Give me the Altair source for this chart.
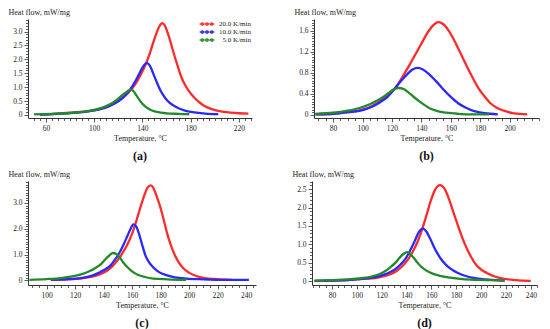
import altair as alt
import pandas as pd

FONT = "Liberation Serif"
SERIES = ["20.0 K/min", "10.0 K/min", "5.0 K/min"]
COLORS = ["#ff2b2b", "#2828ff", "#23892a"]
Y_TITLE = "Heat flow, mW/mg"
X_TITLE = "Temperature, °C"

# ---- panel (a) ----
a20_t = [55, 70, 85, 95, 105, 112, 118, 122, 126, 130, 134, 138, 142, 146, 149, 152, 154, 156.5, 158.5, 161,
         163.5, 166, 169, 172, 176, 180, 184, 188, 192, 197, 203, 210, 218, 228]
a20_q = [0.02, 0.05, 0.1, 0.14, 0.22, 0.32, 0.45, 0.55, 0.7, 0.88, 1.1, 1.4, 1.75, 2.2, 2.6, 2.98, 3.18, 3.3, 3.22, 2.95,
         2.6, 2.22, 1.8, 1.4, 1.03, 0.78, 0.58, 0.43, 0.31, 0.22, 0.15, 0.1, 0.07, 0.05]
a10_t = [55, 70, 85, 95, 105, 112, 118, 122, 126, 130, 134, 137, 140, 142, 144, 146, 148, 150, 152.5, 155,
         158, 161, 165, 170, 176, 183, 192, 203]
a10_q = [0.01, 0.04, 0.08, 0.13, 0.21, 0.31, 0.44, 0.56, 0.72, 0.93, 1.2, 1.45, 1.7, 1.82, 1.86, 1.78, 1.6, 1.38, 1.12, 0.88,
         0.67, 0.5, 0.36, 0.24, 0.15, 0.09, 0.05, 0.03]
a5_t = [50, 65, 80, 92, 102, 108, 114, 119, 123, 126, 128.5, 130.5, 132.5, 135, 137.5, 140, 143, 147, 152, 160, 170, 179]
a5_q = [0.02, 0.04, 0.07, 0.12, 0.2, 0.28, 0.4, 0.55, 0.7, 0.8, 0.88, 0.91, 0.86, 0.7, 0.54, 0.4, 0.28, 0.18, 0.11, 0.06, 0.04, 0.03]

# ---- panel (b) ----
b20_t = [68, 80, 90, 100, 106, 112, 118, 124, 128, 132, 136, 140, 144, 148, 151.5, 155, 159, 163, 167, 171,
         175, 179, 183, 187, 191, 196, 203, 212]
b20_q = [0.01, 0.02, 0.05, 0.1, 0.16, 0.26, 0.39, 0.58, 0.76, 0.95, 1.15, 1.35, 1.55, 1.7, 1.76, 1.72, 1.58, 1.38, 1.15, 0.92,
         0.7, 0.5, 0.35, 0.22, 0.14, 0.08, 0.03, 0.01]
b10_t = [68, 80, 90, 100, 106, 112, 117, 122, 126, 130, 134, 137.5, 141, 145, 150, 155, 160, 165, 170, 176, 183, 192]
b10_q = [0.01, 0.02, 0.05, 0.09, 0.15, 0.24, 0.34, 0.5, 0.64, 0.76, 0.86, 0.89, 0.86, 0.78, 0.64, 0.48, 0.34, 0.22, 0.14, 0.07, 0.03, 0.01]
b5_t = [68, 80, 90, 98, 105, 110, 114, 118, 121, 124.5, 128, 131, 134, 138, 142, 146, 151, 157, 165, 175, 186]
b5_q = [0.02, 0.04, 0.08, 0.13, 0.2, 0.27, 0.34, 0.42, 0.48, 0.51, 0.49, 0.43, 0.36, 0.27, 0.19, 0.12, 0.07, 0.04, 0.02, 0.01, 0.01]

# ---- panel (c) ----
c20_t = [103, 115, 125, 132, 137, 141, 145, 148, 151, 154, 157, 160, 163, 166, 169, 171, 173, 175, 177, 179.5,
         182, 184.5, 187, 190, 193, 196, 200, 205, 211, 220, 230]
c20_q = [0.02, 0.04, 0.08, 0.14, 0.22, 0.32, 0.48, 0.65, 0.86, 1.12, 1.42, 1.8, 2.3, 2.85, 3.35, 3.6, 3.68, 3.58, 3.3, 2.9,
         2.4, 1.85, 1.4, 0.98, 0.68, 0.47, 0.3, 0.17, 0.09, 0.05, 0.02]
c10_t = [103, 115, 125, 132, 137, 141, 145, 148, 151, 154, 157, 159, 161, 163, 165, 167, 169.5, 172, 175, 179,
         184, 190, 198, 210, 225, 242]
c10_q = [0.03, 0.05, 0.1, 0.18, 0.3, 0.42, 0.58, 0.8, 1.05, 1.38, 1.75, 2.0, 2.17, 2.08, 1.78, 1.4, 0.95, 0.7, 0.5, 0.32,
         0.2, 0.12, 0.07, 0.04, 0.02, 0.02]
c5_t = [88, 100, 110, 118, 125, 130, 134, 138, 141, 144, 146.5, 149, 151.5, 154, 157, 160, 164, 169, 175, 185, 198]
c5_q = [0.02, 0.05, 0.09, 0.15, 0.24, 0.35, 0.47, 0.62, 0.8, 0.96, 1.06, 1.02, 0.88, 0.68, 0.5, 0.35, 0.22, 0.13, 0.07, 0.04, 0.02]

# ---- panel (d) ----
d20_t = [66, 80, 95, 108, 118, 126, 132, 137, 141, 145, 149, 152.5, 156, 159.5, 163, 167, 170.5, 174, 177.5, 181,
         184.5, 188, 192, 196, 200, 205, 211, 218, 228, 240]
d20_q = [0.01, 0.02, 0.04, 0.07, 0.11, 0.18, 0.28, 0.42, 0.58, 0.8, 1.08, 1.4, 1.78, 2.18, 2.48, 2.61, 2.52, 2.25, 1.9, 1.55,
         1.22, 0.93, 0.66, 0.45, 0.32, 0.22, 0.13, 0.07, 0.03, 0.01]
d10_t = [66, 80, 95, 108, 116, 122, 127, 131, 135, 139, 143, 147, 150, 153, 156, 159, 162, 165, 168.5, 172,
         176, 181, 187, 194, 203, 212, 219]
d10_q = [0.01, 0.02, 0.04, 0.08, 0.12, 0.18, 0.25, 0.33, 0.45, 0.6, 0.84, 1.12, 1.34, 1.43, 1.35, 1.16, 0.94, 0.75, 0.57, 0.44,
         0.33, 0.23, 0.15, 0.09, 0.05, 0.03, 0.02]
d5_t = [66, 80, 95, 105, 112, 118, 123, 127, 131, 134.5, 137.5, 140.5, 143, 146, 149, 152, 156, 161, 167, 175, 185, 197, 208, 219]
d5_q = [0.01, 0.03, 0.06, 0.09, 0.13, 0.19, 0.28, 0.38, 0.5, 0.64, 0.74, 0.79, 0.74, 0.63, 0.5, 0.39, 0.29, 0.21, 0.15, 0.1,
        0.06, 0.04, 0.03, 0.02]

# tick labels per panel
a_xlabels = [60, 100, 140, 180, 220]
a_ylabels = [0, 0.5, 1.0, 1.5, 2.0, 2.5, 3.0]
b_xlabels = [80, 100, 120, 140, 160, 180, 200]
b_ylabels = [0, 0.4, 0.8, 1.2, 1.6]
c_xlabels = [100, 120, 140, 160, 180, 200, 220, 240]
c_ylabels = [0, 1.0, 2.0, 3.0]
d_xlabels = [80, 100, 120, 140, 160, 180, 200, 220, 240]
d_ylabels = [0, 0.5, 1.0, 1.5, 2.0, 2.5]

# legend glyph: a short line with three open circle markers
r = 0.42
LEGEND_GLYPH = "M-2.5,0H2.5" + "".join(
    f"M{cx - r:.2f},0a{r},{r} 0 1,0 {2 * r:.2f},0a{r},{r} 0 1,0 {-2 * r:.2f},0" for cx in (-1.6, 0, 1.6)
)


def frame(triples):
    rows = []
    for name, ts, qs in triples:
        for t, q in zip(ts, qs):
            rows.append({"T": t, "Q": q, "series": name})
    return pd.DataFrame(rows)


def minor(lo, hi, step):
    out = []
    k = int(lo // step) + 1
    while k * step <= hi + 1e-9:
        out.append(round(k * step, 3))
        k += 1
    return out


def panel(label, df, xdom, xlabels, xstep, ydom, ylabels, ystep, w, h, legend):
    xt = minor(xdom[0], xdom[1], xstep)
    yt = [v for v in minor(ydom[0] - ystep, ydom[1], ystep) if v >= 0]
    xs = "[" + ",".join(str(v) for v in xlabels) + "]"
    ys = "[" + ",".join(str(v) for v in ylabels) + "]"
    xaxis = alt.Axis(
        values=xt, title=X_TITLE, titleFont=FONT, titleFontSize=8, titleFontWeight="normal",
        titlePadding=3, labelFont=FONT, labelFontSize=7.5, labelPadding=2, labelOverlap=False,
        labelExpr=f"indexof({xs}, datum.value) >= 0 ? format(datum.value, 'd') : ''",
        tickSize={"condition": {"test": f"indexof({xs}, datum.value) >= 0", "value": 4}, "value": 2.5},
        grid=False, domainColor="#333", tickColor="#333", labelColor="#222", titleColor="#222",
        domainWidth=1, tickWidth=0.8,
    )
    yaxis = alt.Axis(
        values=yt, title=Y_TITLE, titleFont=FONT, titleFontSize=8, titleFontWeight="normal",
        titleAngle=0, titleAlign="left", titleBaseline="bottom", titleX=-20, titleY=-3,
        labelFont=FONT, labelFontSize=7.5, labelPadding=2, labelOverlap=False,
        labelExpr=f"indexof({ys}, datum.value) >= 0 ? (datum.value == 0 ? '0' : format(datum.value, '.1f')) : ''",
        tickSize={"condition": {"test": f"indexof({ys}, datum.value) >= 0", "value": 4}, "value": 2.5},
        grid=False, domainColor="#333", tickColor="#333", labelColor="#222", titleColor="#222",
        domainWidth=1, tickWidth=0.8,
    )
    if legend:
        leg = alt.Legend(title=None, orient="top-right", symbolType=LEGEND_GLYPH, symbolStrokeWidth=1.2,
                         symbolSize=36, labelFont=FONT, labelFontSize=7, labelColor="#222",
                         labelAlign="right", labelOffset=40, rowPadding=0, offset=1, padding=0)
    else:
        leg = None
    return alt.Chart(df).mark_line(strokeWidth=2.3, interpolate="monotone", clip=True).encode(
        x=alt.X("T:Q", scale=alt.Scale(domain=xdom, nice=False, zero=False), axis=xaxis),
        y=alt.Y("Q:Q", scale=alt.Scale(domain=ydom, nice=False, zero=False), axis=yaxis),
        color=alt.Color("series:N", scale=alt.Scale(domain=SERIES, range=COLORS), legend=leg, sort=SERIES),
        order=alt.Order("T:Q"),
    ).properties(
        width=w, height=h,
        title=alt.TitleParams(label, orient="bottom", font=FONT, fontSize=12, fontWeight="bold",
                              color="#111", offset=8),
    )


pa = panel("(a)", frame([(SERIES[0], a20_t, a20_q), (SERIES[1], a10_t, a10_q), (SERIES[2], a5_t, a5_q)]),
           [45, 231], a_xlabels, 5, [-0.11, 3.45], a_ylabels, 0.1, 224, 99, True)
pb = panel("(b)", frame([(SERIES[0], b20_t, b20_q), (SERIES[1], b10_t, b10_q), (SERIES[2], b5_t, b5_q)]),
           [67, 220], b_xlabels, 5, [-0.06, 1.82], b_ylabels, 0.05, 225, 99, False)
pc = panel("(c)", frame([(SERIES[0], c20_t, c20_q), (SERIES[1], c10_t, c10_q), (SERIES[2], c5_t, c5_q)]),
           [87, 247], c_xlabels, 5, [-0.18, 3.85], c_ylabels, 0.1, 228, 104, False)
pd_ = panel("(d)", frame([(SERIES[0], d20_t, d20_q), (SERIES[1], d10_t, d10_q), (SERIES[2], d5_t, d5_q)]),
            [64, 245], d_xlabels, 5, [-0.1, 2.72], d_ylabels, 0.1, 225, 104, False)

row1 = alt.hconcat(pa, pb, spacing=42).resolve_scale(color="independent").resolve_legend(color="independent")
row2 = alt.hconcat(pc, pd_, spacing=36).resolve_scale(color="independent").resolve_legend(color="independent")
chart = alt.vconcat(row1, row2, spacing=8).resolve_scale(color="independent").resolve_legend(
    color="independent").properties(padding=0, background="white").configure_view(stroke=None)

chart.save("out.html", embed_options={"renderer": "svg", "actions": False})
